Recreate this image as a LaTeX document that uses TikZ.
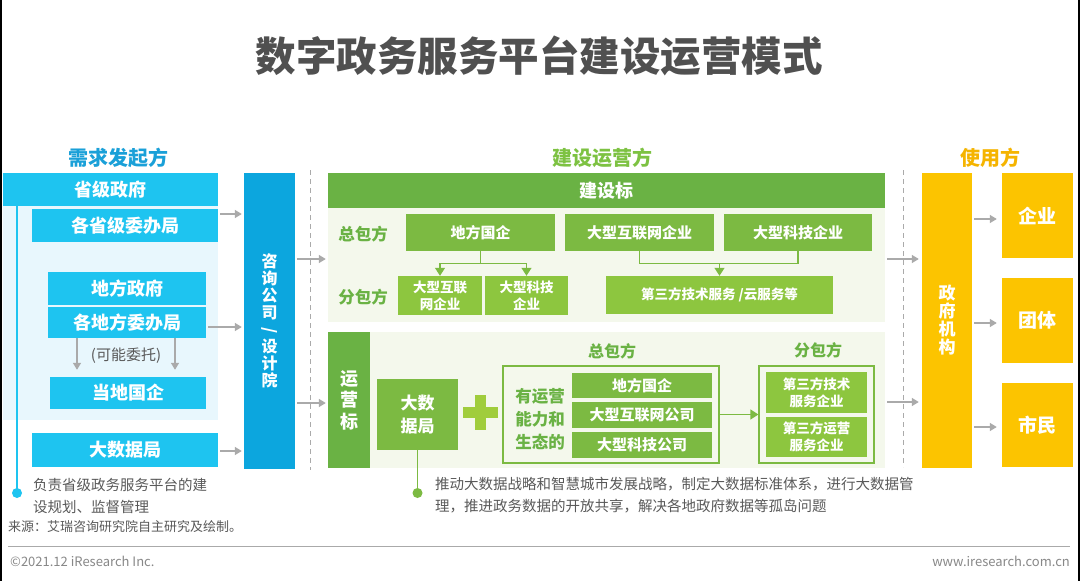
\documentclass[tikz,border=0pt]{standalone}
\usepackage{fontspec}
\setmainfont{Noto Sans CJK SC}
\usetikzlibrary{arrows.meta, positioning, calc}
\definecolor{irCyan}{RGB}{30,196,240}
\definecolor{irBlue}{RGB}{12,166,222}
\definecolor{irPale}{RGB}{232,247,253}
\definecolor{irHead}{RGB}{26,160,216}
\definecolor{irGreen}{RGB}{106,178,68}
\definecolor{irHeadGreen}{RGB}{125,194,66}
\definecolor{irLeaf}{RGB}{124,186,66}
\definecolor{irLime}{RGB}{141,198,63}
\definecolor{irMint}{RGB}{244,248,236}
\definecolor{irPlus}{RGB}{160,205,60}
\definecolor{irGold}{RGB}{252,196,0}
\definecolor{irHeadGold}{RGB}{245,180,0}
\definecolor{irGray}{RGB}{170,170,170}
\definecolor{irText}{RGB}{89,89,89}
\definecolor{irTitle}{RGB}{80,80,80}

\begin{document}
\begin{tikzpicture}[x=1pt, y=-1pt,
  box/.style={rectangle, inner sep=0pt, text=white, align=center,
    font=\bfseries\fontsize{18}{20}\selectfont},
  cyanbox/.style={box, fill=irCyan},
  leafbox/.style={box, fill=irLeaf, font=\bfseries\fontsize{15}{18}\selectfont},
  limebox/.style={box, fill=irLime, font=\bfseries\fontsize{13.5}{17}\selectfont},
  goldbox/.style={box, fill=irGold, font=\bfseries\fontsize{19}{22}\selectfont},
  header/.style={inner sep=0pt, font=\bfseries\fontsize{20}{22}\selectfont},
  partytag/.style={inner sep=0pt, text=irGreen, align=center,
    font=\bfseries\fontsize{16.5}{23}\selectfont},
  note/.style={inner sep=0pt, text=irText, align=left, anchor=west,
    font=\fontsize{14.5}{22}\selectfont},
  outline/.style={rectangle, draw=irLeaf, line width=1.2pt, inner sep=0pt},
  flow/.style={draw=irGray, line width=1.5pt, -{Triangle[length=7pt, width=8pt]}},
  tie/.style={draw=irLeaf, line width=1.2pt},
  tiearrow/.style={tie, -{Triangle[length=8pt, width=10pt]}},
  divider/.style={draw=irGray, line width=1pt, dash pattern=on 5pt off 4pt}
]
\fill[white] (0,0) rectangle (1080,581);
\useasboundingbox (0,0) rectangle (1080,581);
\fill[black] (0,0) rectangle (2,581);
\fill[black] (1078,0) rectangle (1080,581);

\node[inner sep=0pt, text=irTitle, font=\bfseries\fontsize{40.5}{42}\selectfont] (title) at (539,56) {数字政务服务平台建设运营模式};

% demand side
\node[header, text=irHead] (hdemand) at (118,158) {需求发起方};
\fill[irPale] (3,206) rectangle (218,420);
\node[cyanbox, minimum width=215, minimum height=33] (prov) at (110.5,189.5) {省级政府};
\node[cyanbox, minimum width=186, minimum height=33] (provbur) at (125,225.5) {各省级委办局};
\node[cyanbox, minimum width=158, minimum height=33] (localgov) at (127,288.5) {地方政府};
\node[cyanbox, minimum width=158, minimum height=31] (localbur) at (127,322.5) {各地方委办局};
\node[cyanbox, minimum width=156, minimum height=32] (localsoe) at (128,393) {当地国企};
\node[cyanbox, minimum width=186, minimum height=34] (bigdata) at (125,450) {大数据局};
\node[inner sep=0pt, text=irText, font=\fontsize{15}{18}\selectfont] (maybe) at (126,356) {(可能委托)};
\draw[flow, shorten >=7pt] (localbur.south -| 77,0) -- (localsoe.north -| 77,0);
\draw[flow, shorten >=7pt] (localbur.south -| 175,0) -- (localsoe.north -| 175,0);
\coordinate (dotA) at (17,493);
\draw[irCyan, line width=1.5pt] (prov.south -| dotA) -- (dotA);
\fill[irCyan] (dotA) circle (5);
\node[note] (notedemand) at (33,496) {负责省级政务服务平台的建\\设规划、监督管理};

% consultancy
\node[box, fill=irBlue, minimum width=51, minimum height=296,
  font=\bfseries\fontsize{16}{17}\selectfont] (consult) at (269.5,321)
  {咨\\询\\公\\司\\\rotatebox[origin=c]{-90}{/}\\设\\计\\院};
\path (provbur.east) ++(0,-11.5) coordinate (f1);
\path (localbur.east) ++(0,4.5) coordinate (f2);
\path (bigdata.east) ++(0,1) coordinate (f3);
\foreach \f in {f1,f2,f3}
  \draw[flow, shorten <=2pt, shorten >=2pt] (\f) -- (\f -| consult.west);

% construction and operation
\node[header, text=irHeadGreen] (hbuild) at (602,158) {建设运营方};
\draw[divider] (310,170) -- (310,470);
\node[box, fill=irGreen, minimum width=557, minimum height=35] (jsbar) at (606.5,190.5) {建设标};
\node[rectangle, fill=irMint, minimum width=557, minimum height=114, inner sep=0pt] (jspanel) at (606.5,265) {};
\node[partytag] (tagmain) at (363,234) {总包方};
\node[partytag] (tagsub) at (363,297) {分包方};
\node[leafbox, minimum width=149, minimum height=37] (js1) at (480.5,232.5) {地方国企};
\node[leafbox, minimum width=149, minimum height=37] (js2) at (639.5,232.5) {大型互联网企业};
\node[leafbox, minimum width=148, minimum height=37] (js3) at (798,232.5) {大型科技企业};
\node[limebox, minimum width=84, minimum height=39] (sub1) at (440,295.5) {大型互联\\网企业};
\node[limebox, minimum width=83, minimum height=39] (sub2) at (526.5,295.5) {大型科技\\企业};
\node[limebox, minimum width=227, minimum height=38] (sub3) at (719.5,295) {第三方技术服务 /云服务等};
\draw[tie] (js1.south) -- ++(0,12) coordinate (t1);
\draw[tiearrow] (t1) -| (sub1.north);
\draw[tiearrow] (t1) -| (sub2.north);
\draw[tie] (js2.south) -- ++(0,12) coordinate (t2) -| (js3.south);
\draw[tiearrow] (sub3.north |- t2) -- (sub3.north);

\node[rectangle, fill=irMint, minimum width=557, minimum height=136, inner sep=0pt] (yypanel) at (606.5,400) {};
\node[box, fill=irGreen, minimum width=42, minimum height=136,
  font=\bfseries\fontsize{18}{21.5}\selectfont] (yybar) at (349,400) {运\\营\\标};
\node[leafbox, minimum width=81, minimum height=71,
  font=\bfseries\fontsize{17}{23}\selectfont] (bigdata2) at (417.5,414.5) {大数\\据局};
\draw[irPlus, line width=11pt] (463,412.5) -- (498,412.5) (480.5,395) -- (480.5,430);
\node[partytag, font=\bfseries\fontsize{16}{20}\selectfont] (tagmain2) at (612,351) {总包方};
\node[partytag, font=\bfseries\fontsize{16}{20}\selectfont] (tagsub2) at (818,350) {分包方};
\node[outline, minimum width=216, minimum height=97] (out1) at (611,414.5) {};
\node[outline, minimum width=115, minimum height=97] (out2) at (816.5,414.5) {};
\node[partytag] (ability) at (540,419.5) {有运营\\能力和\\生态的};
\node[leafbox, minimum width=140, minimum height=25] (b1) at (642,385.5) {地方国企};
\node[leafbox, minimum width=140, minimum height=26] (b2) at (642,415) {大型互联网公司};
\node[leafbox, minimum width=140, minimum height=26] (b3) at (642,445) {大型科技公司};
\node[limebox, minimum width=101, minimum height=41] (c1) at (816.5,392.5) {第三方技术\\服务企业};
\node[limebox, minimum width=101, minimum height=40] (c2) at (816.5,437) {第三方运营\\服务企业};
\draw[tiearrow] (out1.east) -- (out2.west);
\coordinate (dotB) at (417.5,493);
\draw[tie] (bigdata2.south) -- (dotB);
\fill[irLeaf] (dotB) circle (5);
\node[note] (notebuild) at (435,495) {推动大数据战略和智慧城市发展战略，制定大数据标准体系，进行大数据管\\理，推进政务数据的开放共享，解决各地政府数据等孤岛问题};

\path (consult.east) ++(0,-62) coordinate (g1);
\path (consult.east) ++(0,82) coordinate (g2);
\foreach \g in {g1,g2}
  \draw[flow, shorten <=2pt, shorten >=2pt] (\g) -- (\g -| jspanel.west);

% users
\node[header, text=irHeadGold] (huser) at (990,158) {使用方};
\draw[divider] (903,170) -- (903,467);
\node[box, fill=irGold, minimum width=50, minimum height=295,
  font=\bfseries\fontsize{17}{18}\selectfont] (gov) at (947,320.5) {政\\府\\机\\构};
\path (jspanel.east) ++(0,-6) coordinate (h1);
\path (yypanel.east) ++(0,2) coordinate (h2);
\foreach \h in {h1,h2}
  \draw[flow, shorten <=2pt, shorten >=3pt] (\h) -- (\h -| gov.west);
\node[goldbox, minimum width=71, minimum height=85] (firm) at (1037.5,215.5) {企业};
\node[goldbox, minimum width=71, minimum height=85] (group) at (1037.5,320.5) {团体};
\node[goldbox, minimum width=71, minimum height=84] (citizen) at (1037.5,425) {市民};
\foreach \u/\dy in {firm/3.5, group/2.5, citizen/2}
  \draw[flow, shorten <=2pt, shorten >=5pt] (gov.east |- \u) ++(0,\dy) -- ($(\u.west)+(0,\dy)$);

% footer
\node[note, text=irText, font=\fontsize{13}{15}\selectfont] (source) at (8,527) {来源：艾瑞咨询研究院自主研究及绘制。};
\draw[irGray, line width=1pt] (8,546) -- (1070,546);
\node[note, text=irGray!80!black, font=\fontsize{13}{15}\selectfont] (copy) at (10,561) {©2021.12 iResearch Inc.};
\node[note, anchor=east, text=irGray!80!black, font=\fontsize{13}{15}\selectfont] (site) at (1070,561) {www.iresearch.com.cn};
\end{tikzpicture}
\end{document}
